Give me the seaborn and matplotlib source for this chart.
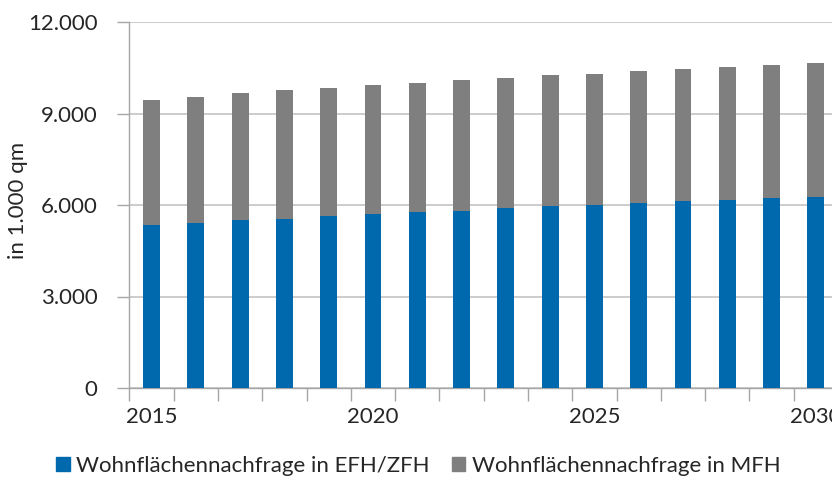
import matplotlib
matplotlib.use("Agg")
import matplotlib.pyplot as plt
from matplotlib.patches import Patch
from matplotlib.ticker import FuncFormatter, FixedLocator
import pandas as pd
import seaborn as sns

## DATA ------------------------------------------------------------------------
years = [2015, 2016, 2017, 2018, 2019, 2020, 2021, 2022,
         2023, 2024, 2025, 2026, 2027, 2028, 2029, 2030]
#wohnflächennachfrage EFH/ZFH (in 1.000 qm):
efh = [5330, 5420, 5505, 5550, 5650, 5705, 5760, 5815,
       5890, 5955, 6010, 6065, 6120, 6175, 6240, 6265]
#gesamt (EFH/ZFH + MFH):
total = [9435, 9545, 9665, 9755, 9830, 9920, 10005, 10090,
         10170, 10255, 10310, 10400, 10475, 10530, 10600, 10650]
mfh = [t - e for t, e in zip(total, efh)]
shown_years = ["2015", "2020", "2025", "2030"]
series_labels = ["Wohnflächennachfrage in EFH/ZFH", "Wohnflächennachfrage in MFH"]

## STYLE -----------------------------------------------------------------------
blue = "#0069ad"
grey = "#7f7f7f"
axis_col = "#a6a6a6"
grid_col = "#c4c4c4"
text_col = "#262626"
fs = 16

sns.set_theme(style="white")
plt.rcParams["font.family"] = ["Lato", "DejaVu Sans"]
plt.rcParams["font.size"] = fs

df = pd.DataFrame({"year": [str(y) for y in years], "efh": efh, "mfh": mfh})
df["total"] = df["efh"] + df["mfh"]

fig = plt.figure(figsize=(8.32, 4.79), dpi=100)
ax = fig.add_axes([129.4 / 832, 91 / 479, 708.6 / 832, 366 / 479])

#gestapelt: erst gesamt (grau), dann EFH (blau) drüber
sns.barplot(data=df, x="year", y="total", color=grey, saturation=1, width=0.38,
            linewidth=0, ax=ax, zorder=2)
sns.barplot(data=df, x="year", y="efh", color=blue, saturation=1, width=0.38,
            linewidth=0, ax=ax, zorder=3)

ax.set_xlim(-0.5, len(years) - 0.5)
ax.set_ylim(0, 12000)
ax.set_yticks([0, 3000, 6000, 9000, 12000])
ax.yaxis.set_major_formatter(FuncFormatter(lambda v, p: f"{v:,.0f}".replace(",", ".")))
ax.yaxis.grid(True, color=grid_col, linewidth=1.2, zorder=0)
ax.set_axisbelow(True)

#x-achse: labels nur alle 5 jahre, striche an kategoriegrenzen
ax.set_xticks(range(len(years)))
ax.set_xticklabels([str(y) if str(y) in shown_years else "" for y in years])
ax.xaxis.set_minor_locator(FixedLocator([i - 0.5 for i in range(len(years) + 1)]))
ax.tick_params(axis="x", which="major", length=0, pad=14, labelcolor=text_col, labelsize=fs)
ax.tick_params(axis="x", which="minor", length=9, width=1, color=axis_col, bottom=True)
ax.tick_params(axis="y", which="major", length=9, width=1, color=axis_col, left=True,
               pad=14, labelcolor=text_col, labelsize=fs)

ax.set_xlabel("")
ax.set_ylabel("")
for s in ["top", "right"]:
    ax.spines[s].set_visible(False)
for s in ["left", "bottom"]:
    ax.spines[s].set_color(axis_col)
    ax.spines[s].set_linewidth(1)

fig.text(18 / 832, 1 - 200 / 479, "in 1.000 qm", rotation=90, ha="center", va="center",
         color=text_col, fontsize=fs)

handles = [Patch(color=blue), Patch(color=grey)]
fig.legend(handles, series_labels, loc="center", bbox_to_anchor=(0.503, 1 - 466 / 479),
           ncol=2, frameon=False, handlelength=0.6, handleheight=0.6, handletextpad=0.3,
           columnspacing=1.0, labelcolor=text_col, fontsize=fs)

fig.savefig("out.png", dpi=100)
